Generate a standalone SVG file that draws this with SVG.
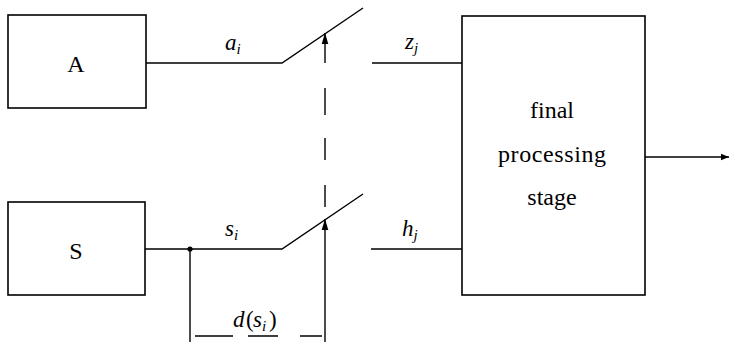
<svg xmlns="http://www.w3.org/2000/svg" width="729" height="342" viewBox="0 0 729 342">
<defs>
<style>
.box{fill:#fff;stroke:#000;stroke-width:1.6}
.ln{fill:none;stroke:#000;stroke-width:1.4}
.t{font-family:"Liberation Serif","Times New Roman",serif;font-size:24px;fill:#000;text-anchor:middle}
.m{font-family:"Liberation Serif","Times New Roman",serif;font-style:italic;font-size:23px;fill:#000}
.sub{font-size:15px}
</style>
<marker id="ah" viewBox="0 0 10 10" refX="10" refY="5" markerWidth="8" markerHeight="8" markerUnits="userSpaceOnUse" orient="auto">
<path d="M0,1 L10,5 L0,9 z" fill="#000"/>
</marker>
<marker id="ahs" viewBox="0 0 10 10" refX="10" refY="5" markerWidth="11" markerHeight="11" markerUnits="userSpaceOnUse" orient="auto">
<path d="M0,2 L10,5 L0,8 z" fill="#000"/>
</marker>
</defs>
<g id="nodeA"><rect class="box" x="8" y="15" width="138" height="93"/><text class="t" x="76" y="72">A</text></g>
<g id="nodeS"><rect class="box" x="8" y="202" width="137" height="93"/><text class="t" x="76" y="259">S</text></g>
<g id="nodeF"><rect class="box" x="462" y="16" width="183" height="279"/>
<text class="t" x="552" y="118">final</text>
<text class="t" x="552" y="162" textLength="108">processing</text>
<text class="t" x="552" y="205">stage</text></g>
<g id="connectors">
<path class="ln" d="M146,63 H282 L363,8"/>
<path class="ln" d="M145,249 H282 L363,194"/>
<path class="ln" d="M372,63 H462"/>
<path class="ln" d="M371,249 H462"/>
<path class="ln" d="M645,157 H729" marker-end="url(#ah)"/>
<path class="ln" d="M190,249 V342"/>
<path class="ln" d="M325,342 V219" marker-end="url(#ahs)"/>
<path class="ln" d="M325,63 V33" marker-end="url(#ahs)"/>
<path class="ln" d="M325,88 V115 M325,138 V160 M325,185 V207"/>
<path class="ln" d="M195,336 H233 M248,336 H278 M300,336 H322"/>
<circle cx="190" cy="249" r="2.6" fill="#000"/>
</g>
<g id="labels">
<text class="m" x="225" y="50">a<tspan class="sub" dy="4">i</tspan></text>
<text class="m" x="405" y="49">z<tspan class="sub" dy="4">j</tspan></text>
<text class="m" x="225" y="236">s<tspan class="sub" dy="4">i</tspan></text>
<text class="m" x="402" y="236">h<tspan class="sub" dy="4">j</tspan></text>
<text class="m" x="233" y="327">d<tspan x="246" font-style="normal">(</tspan><tspan x="253">s</tspan><tspan class="sub" x="262" dy="4">i</tspan><tspan x="269" dy="-4" font-style="normal">)</tspan></text>
</g>
</svg>
